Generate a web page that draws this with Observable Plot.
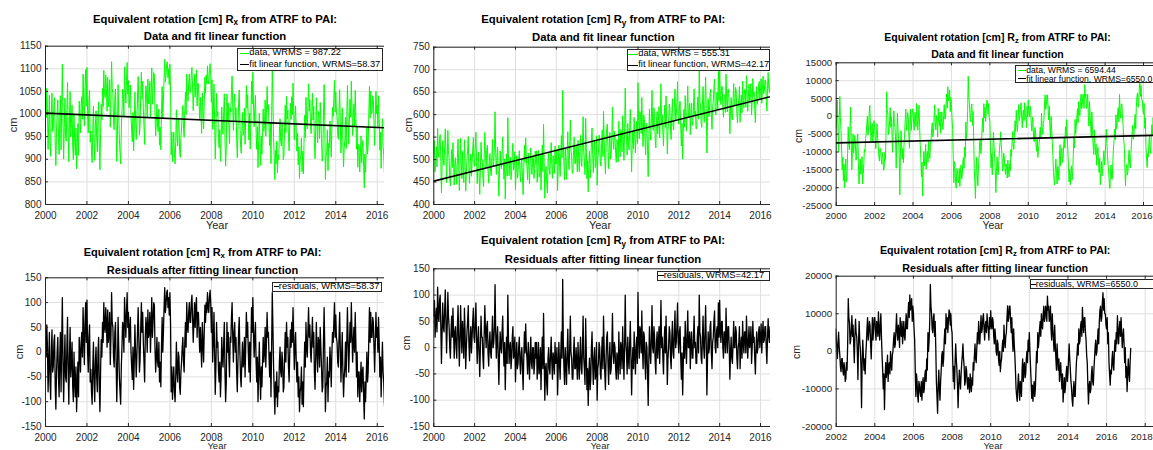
<!DOCTYPE html>
<html>
<head>
<meta charset="utf-8">
<script src="https://cdn.jsdelivr.net/npm/d3@7"></script>
<script src="https://cdn.jsdelivr.net/npm/@observablehq/plot@0.6"></script>
<style>
html,body{margin:0;padding:0;background:#fff;}
#root{position:relative;width:1153px;height:450px;overflow:hidden;background:#fff;font-family:"Liberation Sans",Arial,Helvetica,sans-serif;}
.panel{position:absolute;overflow:hidden;background:transparent;}
.panel > svg{position:absolute;left:0;top:0;}
.abs{position:absolute;white-space:nowrap;line-height:1;}
.title{font-weight:bold;color:#000;transform:translate(-50%,-50%);}
.sub{position:relative;top:0.32em;font-size:0.72em;}
.ylab{color:#262626;transform:translate(-50%,-50%) rotate(-90deg);}
.xlab{color:#262626;transform:translateX(-50%);line-height:0.78;}
.legend{position:absolute;box-sizing:border-box;border:1px solid #262626;background:#fff;overflow:hidden;}
.sw{position:absolute;height:0;}
.lt{position:absolute;white-space:nowrap;line-height:1;color:#000;transform:translateY(-50%);}
</style>
</head>
<body>
<div id="root"></div>
<script>
// ---------- data: residuals, 32 samples per year from 2000.0 ----------
const startYear = 2000;
const samplesPerYear = 32;

const rxResiduals = [
  30, -10, 55, 10, -80, -20, 40, -60, -95, 0, 45, -40, -30, 20, 35, -70, -115, -40, 0, 30, -50, -90, -10, 40, -80, 20, 110, -20, -100, -30, 35, -50,
  -60, 10, 70, -40, -105, -10, 50, -50, -20, 20, -70, -100, 0, -60, -90, -30, -120, -70, -20, -90, 30, 0, -40, 20, 40, -10, 90, 30, -25, 60, 100, 20,
  105, 0, -40, 30, 55, -60, -35, -80, -105, -30, 20, -60, -100, -20, 10, -50, -80, 0, 30, -70, -120, -40, 25, -10, 60, 20, 100, 50, 40, 90, 60, 10,
  85, 20, 40, 80, -25, 30, 120, 60, 50, -10, -30, 40, 60, -20, -100, -40, 70, 10, -50, -80, -105, -30, 10, 60, 50, 0, 110, 70, 30, 80, 120, 50,
  80, 20, 40, 70, 0, -30, -55, 10, -75, -20, 55, 0, -50, -10, 40, 90, 30, -40, -15, 50, 100, 40, 80, 20, -20, -60, 30, 70, 50, 0, 85, 30,
  40, 80, 0, 50, 110, 30, 60, 100, 95, 10, -40, -10, 30, -20, -30, 20, -60, -20, -70, 10, 70, 0, 40, 90, 130, 80, 95, 120, 125, 90, 110, 75,
  120, 60, -80, -30, -95, -60, -30, -80, -100, -50, 20, -40, -60, 0, -10, -70, -85, -40, -20, 10, 30, -20, -40, 20, 60, 10, 100, 50, 40, 80, 100, 60,
  60, 100, 115, 70, 20, 60, 100, 50, 90, 110, 30, 80, 80, 40, 0, 50, 10, -30, 60, 20, -20, 40, 95, 60, 100, 80, 120, 90, 80, 110, 125, 100,
  40, 90, -20, 20, 80, 0, -85, -30, 60, 10, 20, -40, -60, -20, -90, -50, 30, -10, -30, 20, 60, -40, -100, -60, 60, 0, 40, -10, -50, 30, 20, 70,
  100, 30, -20, 40, 60, 0, 30, -40, -80, -20, 40, 70, 0, -50, -70, -20, 20, -30, -20, 30, -50, 10, 80, 30, 60, 0, -40, 20, -60, 10, 90, 40,
  110, 40, -10, 30, 60, -20, -60, -10, -100, -40, 20, -50, -95, -30, -70, -20, 30, -20, 0, 50, -30, 20, 80, 30, 40, -10, -50, 0, -90, 10, 120, 50,
  -30, -80, -125, -60, -90, -40, -110, -70, -80, -20, 10, -40, -50, 0, -20, -80, -70, -10, 40, -20, 60, 10, 30, -30, -60, 0, 45, 10, 60, 20, 90, 30,
  -35, 10, 40, -20, -60, -20, -90, -50, -120, -80, -70, -30, -105, -60, -110, -40, 20, -30, 60, 10, -10, 40, 90, 30, 55, 0, -20, 30, 70, 10, 40, -40,
  -75, -10, 60, 0, -40, 30, 20, -30, 50, 10, -30, -80, -70, 20, 90, 10, -120, -70, -60, -10, -100, -40, -50, 10, -20, -70, 0, 40, 20, 60, 100, 30,
  75, 30, 20, -20, -30, 30, 80, 10, -60, -10, 40, -40, -90, -50, -30, 20, -50, 20, 90, 20, -40, 10, 60, 20, 100, 40, -20, 20, 50, 0, 80, 20,
  -50, 0, -90, -40, -40, -100, -60, -20, -80, -40, -30, -90, -135, -60, -100, -50, 0, -60, -40, 30, 90, 20, 80, 30, 30, 70, 60, 10, -40, 20, 80, 30,
  50, 0, 70, 20, -50, -10, -90, -30, 20, -40, -60, -100, -130, -70, -50, 0, -60, -20, -10, 40, 30, -30, -20, 20, 70, 10, 60, 20, -30, 30, 65, 10,
  40, 0, 60, 20
];

const ryResiduals = [
  60, 90, 20, 50, 75, 30, 115, 60, 50, 90, 100, 40, -30, 30, 85, 40, 30, 70, 110, 50, -10, 40, 105, 60, 40, 0, -20, 30, 60, 20, 75, 30,
  -20, 30, 40, 0, -20, 40, 80, 20, -35, 10, 80, 30, -10, 50, 20, -20, 75, 30, -40, 0, 30, 50, 80, 10, -25, 20, 40, -10, 20, 50, 75, 20,
  10, 50, 85, 20, -30, 10, 40, -10, -55, 0, 60, 20, 20, -20, -40, 30, 80, 30, 0, 40, 50, -10, -35, 10, 30, -10, -20, 20, 60, 0, 10, 40,
  120, 30, -20, 20, 40, -20, -70, -10, 30, 0, -10, 30, 60, 0, -35, 10, -80, -20, 20, -30, 100, 20, -30, 0, 10, -40, -20, 20, 40, -20, -10, 20,
  -65, -20, 10, -40, -30, 0, 20, -30, -50, -10, 0, -40, -80, -20, 30, -10, 45, 0, -20, -50, 10, -20, -60, -10, 20, -30, -40, 0, 0, -50, -30, 10,
  -20, 10, -60, -30, 10, -50, -40, 0, -80, -20, 20, -40, 65, -20, -100, -40, -30, -70, -90, -20, 0, -40, -50, -10, 20, -30, -60, -10, -20, -50, 10, -30,
  -30, 0, -90, -40, 10, -30, -60, -10, 30, -20, 130, 10, -40, -70, 0, -30, -70, -10, 35, -30, -50, 0, 60, -10, -20, -60, -60, -10, 20, -40, -40, 0,
  -30, -60, 10, -30, -60, -10, 20, -40, -50, 0, 60, -20, -40, -70, 55, -10, -80, -40, -110, -50, -20, -80, -60, 0, 30, -30, -70, -20, 0, -60, -50, 10,
  -100, -40, -30, 10, 0, -50, -60, -10, 20, -40, 60, 0, -50, -80, -20, 20, 30, -30, -70, -20, 10, -50, -40, 0, 65, -10, -30, 10, 0, -40, -60, -10,
  -20, -60, 30, -20, -50, 10, 0, -40, 40, -10, -60, 0, 100, 10, -10, -50, 20, -20, -40, 10, 50, -20, -90, -30, 0, -40, 30, -10, -50, 0, 20, -30,
  105, 20, -20, 40, 30, -10, 70, 0, -40, 30, 20, -30, -60, 10, 0, -50, -110, -20, 40, -10, -30, 20, 80, 0, -10, 40, 20, -30, -50, 10, 30, -20,
  10, 40, -30, 20, 90, 0, 20, -20, -50, 10, 40, -10, 60, 0, -70, -20, 0, 40, 30, -20, -40, 20, 50, -10, -20, 30, 70, 0, 10, 40, 85, 10,
  -10, 30, 40, -20, -60, -10, -90, -30, 20, -20, 50, 10, -30, 20, 70, 0, 0, 30, -40, 10, 30, -20, -20, 20, 60, 0, 10, -30, -30, 20, 40, -10,
  100, 30, 20, -20, -30, 20, 60, 0, -20, 30, 80, 10, -90, -20, 30, -10, 0, 40, 50, -10, -40, 10, 20, 50, 70, 0, -10, 30, 40, 0, 85, 20,
  90, 30, 10, 50, 50, 0, -20, 30, 30, -10, 75, 20, -10, 40, 40, 0, -60, -10, 20, -20, -30, 10, 50, 0, 0, 40, 30, -20, -40, 0, 10, 40,
  -40, 0, 20, -20, 50, 10, -10, 30, 30, -10, 60, 20, -20, 10, 40, 0, 10, 40, -30, 0, 50, 10, 20, -20, -50, 0, 30, -10, 0, 30, 40, 0,
  20, 45, -10, 20, 50, 10, 15, 40, 40, 0, -30, 20, 55, 20, 10, 40, 30, -10, -25, 15, 45, 10, 20, 50, 50, 10, 0, 30, 35, 5, -10, 25,
  40, 10, 20, 45
];

const rzResiduals = [
  4400, 8000, 12000, 3000, -2500, 6000, 13000, 7000, 3400, -2000, -7600, -4000, -10600, -6000, -12600, -8000, -4600, -11000, -9600, -3000, 4400, 0, -2000, 4000, 9900, 1000, -7600, -3000, 2400, -3000, -600, 2000,
  -700, -5000, -3700, 1000, 2300, -6000, -11700, -8000, -4700, -9000, -8000, -4000, -11700, -9000, -6000, -2000, -2700, 1000, 2300, 5000, 7300, 2000, 4000, 8000, 10300, 5000, 300, 3000, 5300, 0, 2000, 6000,
  4200, 1000, -1900, 2000, 5100, 1000, -1000, -4000, -5400, -2000, -1900, -5000, -6300, -3000, -4600, -8000, -7200, -3000, -5000, 2000, 14000, 9000, 7700, 2000, 3000, 6000, 9500, 4000, 7000, 2000, -3000, 4000,
  8600, 5000, 4000, 0, -7500, 2000, 8000, 3000, 700, -4000, -15000, -3000, 3000, -1000, -5000, -2000, -6000, -1000, 2000, 6000, 9000, 3000, 5000, 8000, 7000, 2000, -2000, 4000, 9000, 3000, 6000, 9000,
  9000, 5000, 3000, 8000, 7000, 4000, 10500, 6000, 3000, 7000, 10000, 4000, -1000, -5000, -10000, -6000, -15500, -8000, -3000, -7000, -5000, -1000, -8000, -4000, -3000, -6000, 0, -3000, -5000, -1000, 0, 3000,
  5000, 1000, 2000, 6000, 10000, 5000, 3000, 7000, 5000, 1000, 9000, 5000, 4000, 8000, 2000, 5000, 8000, 4000, 3000, 7000, 10000, 6000, 6000, 10000, 13000, 9000, 15000, 11000, 12000, 14000, 8000, 12000,
  10000, 6000, 3000, -5000, -12000, -6000, -8000, -12000, -13500, -8000, -9000, -11000, -12000, -8000, -13000, -9000, -7000, -11000, -10000, -6000, -5000, -8000, -2000, -5000, 5000, 0, 3000, 8000, 17800, 12000, 10000, 6000,
  5000, 9000, 10000, 4000, 8000, 1000, -8000, -12000, -16500, -9000, -5000, -10000, -13000, -8000, -5000, -1000, 0, -4000, -2000, 3000, 6000, 2000, 10000, 6000, 9000, 5000, 8000, 11000, 10500, 7000, 10000, 6000,
  5000, -2000, -8000, -4000, -10000, -3000, 2000, -2000, -5000, -9000, -15000, -9000, -5000, -8000, -10000, -6000, -3000, -1000, 2000, -2000, -4000, -9000, -8000, -4000, -5000, -8000, -10000, -7000, -8000, -11000, -6000, -9000,
  -10700, -7000, -9000, -3000, -5000, -1000, 2000, -2000, -3000, 1000, 5000, 2000, 8000, 4000, 2000, 6000, 9500, 5000, 6000, 9000, 10000, 6000, 3000, 7000, 8000, 5000, 10000, 7000, 6000, 3000, 9000, 6000,
  10800, 7000, 6000, 9000, 8000, 4000, 2000, 6000, 4000, 0, -1000, 3000, 2000, -2000, -3700, 0, -5400, -3000, -2000, 1000, 3000, 0, 7000, 3000, 1000, 4000, 5000, 9000, 12100, 8000, 9000, 12000,
  12000, 8000, 5000, 9000, 3300, 0, 6000, 2000, -1000, -5000, -9800, -12000, -13300, -9000, -6000, -10000, -13000, -8000, -9000, -12000, -5000, -2000, -8000, -4000, -3000, -7000, -6000, -2000, 0, -3000, 3000, 0,
  5000, 0, -4000, -8000, -12500, -9000, -13300, -10000, -8000, -12000, -10000, -5000, 0, -3000, 5000, 1000, 3000, 6000, 8000, 4000, 10000, 7000, 6000, 10000, 12000, 8000, 9000, 12000, 11000, 8000, 14700, 11000,
  12000, 8000, 9000, 12000, 6000, 3000, 10000, 6000, 3000, 0, 7000, 2000, -2000, -5000, 2000, -2000, -5000, -2000, -8000, -5000, -3000, -7000, -10000, -6000, -13500, -10000, -7000, -11000, -9000, -6000, -4000, -8000,
  -6000, -2000, 2000, -2000, -5000, -8000, -10000, -13000, -14600, -10000, -8000, -12000, -12000, -7000, -3000, -1000, 2000, -1000, 6000, 2000, 3000, 7000, 8000, 4000, 11700, 7000, 5000, 9000, 9000, 5000, 3000, -1000,
  -3000, -9000, -14000, -9000, -8000, -11000, -10000, -6000, -4000, -8000, -9000, -5000, -2000, 1000, 3000, -1000, 0, 3000, 6000, 2000, 8000, 11000, 12000, 8000, 9000, 13000, 15600, 11000, 14000, 10000, 10000, 7000,
  6000, 9000, 2000, 5000, -3000, -6000, -9000, -5000, -6000, -2000, 0, -4000, -5000, 0, 3000, 0, 5000, 2000, 9500, 5000, 2000, 6000, 8000, 4000, 9000, 5000, 1000, 4000, 6000, 2000, -3000, 1000,
  -7000, -4000, -10700, -6000, -2000, -6000, -8000, -3000, 800
];

// linear fit: value at 2000.0 and slope per year
const rxFit = {at2000: 1002, slope: -1.98};
const ryFit = {at2000: 452, slope: 11.4};
const rzFit = {at2000: -7450, slope: 128};
const fitSpan = [2000, 2017.3];

const wrms = {
  rxData: "987.22", rxFit: "58.37",
  ryData: "555.31", ryFit: "42.17",
  rzData: "6594.44", rzFit: "6550.0"
};

const xTicksTop = [2000, 2002, 2004, 2006, 2008, 2010, 2012, 2014, 2016];
const xTicksRzRes = [2002, 2004, 2006, 2008, 2010, 2012, 2014, 2016, 2018];
const yTicksRx = [800, 850, 900, 950, 1000, 1050, 1100, 1150];
const yTicksRy = [400, 450, 500, 550, 600, 650, 700, 750];
const yTicksRz = [-25000, -20000, -15000, -10000, -5000, 0, 5000, 10000, 15000];
const yTicksRes = [-150, -100, -50, 0, 50, 100, 150];
const yTicksRzRes = [-20000, -10000, 0, 10000, 20000];

// ---------- derived tables ----------
const fitAt = (f, t) => f.at2000 + f.slope * (t - 2000);
const sampleTime = i => startYear + i / samplesPerYear;
const residTable = r => r.map((v, i) => ({t: sampleTime(i), v}));
const dataTable = (r, f) => r.map((v, i) => ({t: sampleTime(i), v: fitAt(f, sampleTime(i)) + v}));
const fitTable = f => fitSpan.map(t => ({t, v: fitAt(f, t)}));

const GREEN = "#00ff00", GRID = "#dfdfdf", AX = "#262626";
const FONT = "'Liberation Sans', Arial, Helvetica, sans-serif";
const root = document.getElementById("root");
const topLabels = [];

function el(tag, cls, parent, css, html) {
  const e = document.createElement(tag);
  if (cls) e.className = cls;
  if (css) Object.assign(e.style, css);
  if (html != null) e.innerHTML = html;
  if (parent) parent.appendChild(e);
  return e;
}

function buildPanel(p) {
  const div = el("div", "panel", root, {left: p.left + "px", top: p.top + "px", width: p.width + "px", height: p.height + "px"});
  const plotW = p.width - p.ml - p.mr, plotH = p.height - p.mt - p.mb;
  const fmt = d => String(d);
  const xAxisOpts = {tickSize: 0, tickPadding: p.xpad, tickFormat: fmt, label: null, fill: AX};
  const svg = Plot.plot({
    width: p.width, height: p.height,
    marginLeft: p.ml, marginRight: p.mr, marginTop: p.mt, marginBottom: p.mb,
    x: {domain: p.xdom, axis: null},
    y: {domain: p.ydom, axis: null},
    style: {fontFamily: FONT, fontSize: p.tick + "px", background: "none", overflow: "hidden", color: AX},
    marks: [
      Plot.gridX(p.xticks, {stroke: GRID, strokeOpacity: 1}),
      Plot.gridY(p.yticks, {stroke: GRID, strokeOpacity: 1}),
      ...p.lines,
      Plot.tickX(p.xticks, {x: d => d, stroke: AX, insetTop: plotH - 3}),
      Plot.tickX(p.xticks, {x: d => d, stroke: AX, insetBottom: plotH - 3}),
      Plot.tickY(p.yticks, {y: d => d, stroke: AX, insetRight: plotW - 3}),
      Plot.ruleX([p.xdom[0]], {stroke: AX}),
      Plot.ruleY([p.ydom[0], p.ydom[1]], {stroke: AX}),
      Plot.axisX(p.xticks.slice(0, -1), xAxisOpts),
      Plot.axisX(p.xticks.slice(-1), {...xAxisOpts, dx: p.lastDx}),
      Plot.axisY(p.yticks, {tickSize: 0, tickPadding: 4, tickFormat: fmt, label: null, fill: AX})
    ]
  });
  div.appendChild(svg);

  el("div", "abs title", div, {left: p.title.cx + "px", top: p.title.y1 + "px", fontSize: p.title.size + "px"},
     `Equivalent rotation [cm] R<span class="sub">${p.title.sub}</span> from ATRF to PAI:`);
  el("div", "abs title", div, {left: p.title.cx + "px", top: p.title.y2 + "px", fontSize: p.title.size + "px"}, p.title.l2);
  el("div", "abs ylab", div, {left: p.ylab.x + "px", top: p.ylab.y + "px", fontSize: p.label + "px"}, "cm");
  // x label ("Year"): placed in root coordinates so it is never clipped by the panel box
  topLabels.push(el("div", "abs xlab", null, {left: (p.xlab.x + p.left) + "px", top: (p.xlab.top + p.top) + "px", fontSize: p.xlab.size + "px"}, "Year"));
  const lg = p.legend;
  const box = el("div", "legend", div, {left: lg.left + "px", top: lg.top + "px", width: lg.width + "px", height: lg.height + "px"});
  lg.rows.forEach(r => {
    el("div", "sw", box, {left: lg.swL + "px", width: (lg.swR - lg.swL) + "px", top: (r.y - r.w / 2) + "px", borderTop: `${r.w}px solid ${r.color}`});
    el("div", "lt", box, {left: lg.textL + "px", top: r.y + "px", fontSize: lg.size + "px"}, r.text);
  });
}

const panels = [
  {left: 0, top: 0, width: 392, height: 225, ml: 45, mr: 8, mt: 45.7, mb: 21, xdom: [2000, 2016.35], ydom: [800, 1150],
   xticks: xTicksTop, yticks: yTicksRx, tick: 10, label: 11, xpad: 7, lastDx: 0,
   lines: [
     Plot.line(dataTable(rxResiduals, rxFit), {x: "t", y: "v", stroke: GREEN, strokeWidth: 1, clip: true}),
     Plot.line(fitTable(rxFit), {x: "t", y: "v", stroke: "#000", strokeWidth: 1.6, clip: true})
   ],
   title: {cx: 215, y1: 19.5, y2: 37, size: 11.3, sub: "x", l2: "Data and fit linear function"},
   ylab: {x: 13.3, y: 125}, xlab: {x: 217, top: 220.6, size: 11},
   legend: {left: 237.3, top: 47.7, width: 146, height: 23, size: 9.3, swL: 1.7, swR: 10.7, textL: 11,
     rows: [{y: 4.6, color: GREEN, w: 1, text: `data, WRMS = ${wrms.rxData}`}, {y: 16.3, color: "#000", w: 1.5, text: `fit linear function, WRMS=${wrms.rxFit}`}]}
  },
  {left: 384, top: 0, width: 394, height: 225, ml: 49.3, mr: 8, mt: 46.7, mb: 21, xdom: [2000, 2016.49], ydom: [400, 750],
   xticks: xTicksTop, yticks: yTicksRy, tick: 10, label: 11, xpad: 7, lastDx: 0,
   lines: [
     Plot.line(dataTable(ryResiduals, ryFit), {x: "t", y: "v", stroke: GREEN, strokeWidth: 1, clip: true}),
     Plot.line(fitTable(ryFit), {x: "t", y: "v", stroke: "#000", strokeWidth: 1.6, clip: true})
   ],
   title: {cx: 219.3, y1: 20.2, y2: 37.7, size: 11.3, sub: "y", l2: "Data and fit linear function"},
   ylab: {x: 24, y: 125}, xlab: {x: 216, top: 220.6, size: 11},
   legend: {left: 242.7, top: 49.3, width: 143.3, height: 21.4, size: 9.3, swL: 0.6, swR: 10.6, textL: 10.6,
     rows: [{y: 4, color: GREEN, w: 1, text: `data, WRMS = ${wrms.ryData}`}, {y: 15, color: "#000", w: 1.5, text: `fit linear function, WRMS=${wrms.ryFit}`}]}
  },
  {left: 770, top: 0, width: 383, height: 225, ml: 65.7, mr: 0, mt: 62.3, mb: 20, xdom: [2000, 2016.52], ydom: [-25000, 15000],
   xticks: xTicksTop, yticks: yTicksRz, tick: 9.6, label: 10.5, xpad: 6.5, lastDx: -1.5,
   lines: [
     Plot.line(dataTable(rzResiduals, rzFit), {x: "t", y: "v", stroke: GREEN, strokeWidth: 1, clip: true}),
     Plot.line(fitTable(rzFit), {x: "t", y: "v", stroke: "#000", strokeWidth: 1.6, clip: true})
   ],
   title: {cx: 227.5, y1: 37, y2: 54, size: 10.5, sub: "z", l2: "Data and fit linear function"},
   ylab: {x: 28, y: 136}, xlab: {x: 223, top: 220.6, size: 10.5},
   legend: {left: 245.3, top: 65, width: 170, height: 18.3, size: 8.6, swL: 1.7, swR: 10, textL: 10,
     rows: [{y: 4.2, color: GREEN, w: 1, text: `data, WRMS = ${wrms.rzData}`}, {y: 13, color: "#000", w: 1.5, text: `fit linear function, WRMS=${wrms.rzFit}`}]}
  },
  {left: 0, top: 225, width: 392, height: 225, ml: 45, mr: 8, mt: 52.3, mb: 24, xdom: [2000, 2016.35], ydom: [-150, 150],
   xticks: xTicksTop, yticks: yTicksRes, tick: 10, label: 11, xpad: 7, lastDx: 0,
   lines: [Plot.line(residTable(rxResiduals), {x: "t", y: "v", stroke: "#000", strokeWidth: 1.3, clip: true})],
   title: {cx: 202.5, y1: 26.5, y2: 45.2, size: 11, sub: "x", l2: "Residuals after fitting linear function"},
   ylab: {x: 19, y: 126.7}, xlab: {x: 217, top: 217.4, size: 9.5},
   legend: {left: 272.3, top: 56.7, width: 109.5, height: 10, size: 9.3, swL: 0.5, swR: 5.5, textL: 5.5,
     rows: [{y: 4, color: "#000", w: 1.5, text: `residuals, WRMS=${wrms.rxFit}`}]}
  },
  {left: 384, top: 225, width: 394, height: 225, ml: 49.3, mr: 8, mt: 43.3, mb: 24, xdom: [2000, 2016.49], ydom: [-150, 150],
   xticks: xTicksTop, yticks: yTicksRes, tick: 10, label: 11, xpad: 7, lastDx: 0,
   lines: [Plot.line(residTable(ryResiduals), {x: "t", y: "v", stroke: "#000", strokeWidth: 1.3, clip: true})],
   title: {cx: 219, y1: 16.2, y2: 35, size: 11.3, sub: "y", l2: "Residuals after fitting linear function"},
   ylab: {x: 22, y: 118}, xlab: {x: 216, top: 217.4, size: 9.5},
   legend: {left: 272.7, top: 46, width: 113.3, height: 10, size: 9.3, swL: 0, swR: 6, textL: 6,
     rows: [{y: 4, color: "#000", w: 1.5, text: `residuals, WRMS=${wrms.ryFit}`}]}
  },
  {left: 770, top: 225, width: 383, height: 225, ml: 65.7, mr: 0, mt: 50.7, mb: 24, xdom: [2002, 2018.43], ydom: [-20000, 20000],
   xticks: xTicksRzRes, yticks: yTicksRzRes, tick: 9.8, label: 10.5, xpad: 7, lastDx: -3.5,
   lines: [Plot.line(residTable(rzResiduals), {x: "t", y: "v", stroke: "#000", strokeWidth: 1.3, clip: true})],
   title: {cx: 225.2, y1: 25, y2: 42.7, size: 10.7, sub: "z", l2: "Residuals after fitting linear function"},
   ylab: {x: 26, y: 126.7}, xlab: {x: 223, top: 217.4, size: 9.5},
   legend: {left: 259.7, top: 54.3, width: 140, height: 10, size: 9, swL: 0, swR: 5, textL: 5,
     rows: [{y: 4, color: "#000", w: 1.5, text: `residuals, WRMS=${wrms.rzFit}`}]}
  }
];

panels.forEach(buildPanel);
topLabels.forEach(e => root.appendChild(e));
</script>
</body>
</html>
